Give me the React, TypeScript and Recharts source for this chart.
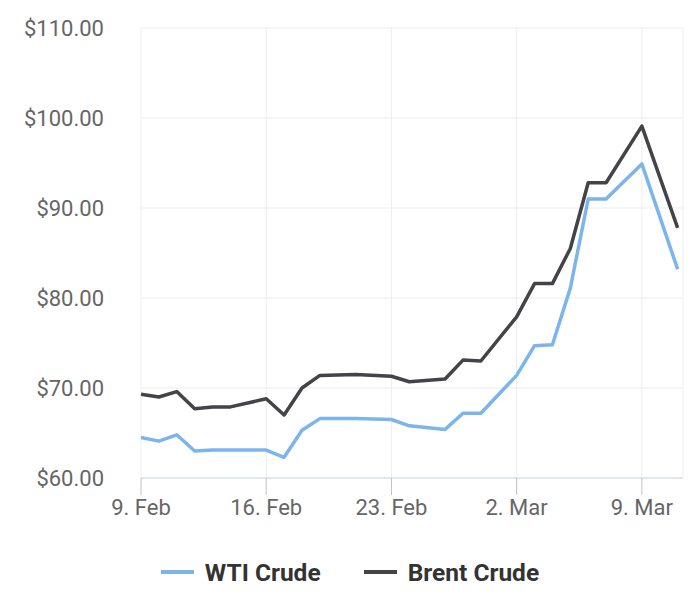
import { LineChart, Line, XAxis, YAxis, CartesianGrid, Legend } from 'recharts';

// day offsets from 9 Feb
const days = [0, 1, 2, 3, 4, 5, 7, 8, 9, 10, 12, 14, 15, 17, 18, 19, 21, 22, 23, 24, 25, 26, 28, 30];
const wti = [64.5, 64.1, 64.8, 63.0, 63.1, 63.1, 63.1, 62.3, 65.3, 66.6, 66.6, 66.5, 65.8, 65.4, 67.2, 67.2, 71.4, 74.7, 74.8, 81.1, 91.0, 91.0, 94.9, 83.2];
const brent = [69.3, 69.0, 69.6, 67.7, 67.9, 67.9, 68.8, 67.0, 70.0, 71.4, 71.5, 71.3, 70.7, 71.0, 73.1, 73.0, 77.9, 81.6, 81.6, 85.5, 92.8, 92.8, 99.1, 87.8];

const xTicks = [0, 7, 14, 21, 28];
const xLabels = ['9. Feb', '16. Feb', '23. Feb', '2. Mar', '9. Mar'];
const yTicks = [60, 70, 80, 90, 100, 110];

const series = [
  { key: 'wti', name: 'WTI Crude', color: '#7cb5ec' },
  { key: 'brent', name: 'Brent Crude', color: '#434348' },
];

const rows = days.map((d, i) => ({ day: d, wti: wti[i], brent: brent[i] }));

function LegendBox() {
  return (
    <div style={{ display: 'flex', justifyContent: 'center', alignItems: 'center', height: 30, gap: 43 }}>
      {series.map((s) => (
        <span key={s.key} style={{ display: 'flex', alignItems: 'center', gap: 11, fontSize: 24.5, fontWeight: 700, color: '#333' }}>
          <span style={{ width: 33, height: 4, background: s.color, display: 'inline-block' }} />
          {s.name}
        </span>
      ))}
    </div>
  );
}

export default function App() {
  return (
    <div style={{ position: 'absolute', left: 0, top: 0, background: '#fff' }}>
      <LineChart
        width={700}
        height={597}
        data={rows}
        margin={{ top: 28, right: 17, bottom: 10, left: 0 }}
        style={{ fontFamily: 'Roboto, sans-serif' }}
      >
        <CartesianGrid stroke="#ededed" strokeWidth={1} />
        <XAxis
          dataKey="day"
          type="number"
          domain={[0, 30.3]}
          ticks={xTicks}
          tickFormatter={(v: number) => xLabels[xTicks.indexOf(v)]}
          height={79}
          tickSize={17}
          tickMargin={4}
          stroke="#ccd6eb"
          tickLine={{ stroke: '#c0c0c0' }}
          tick={{ fill: '#666', fontSize: 22 }}
        />
        <YAxis
          domain={[60, 110]}
          ticks={yTicks}
          width={141}
          axisLine={false}
          tickLine={false}
          tickSize={0}
          tickMargin={37}
          tickFormatter={(v: number) => `$${v.toFixed(2)}`}
          tick={{ fill: '#666', fontSize: 22 }}
        />
        <Legend verticalAlign="bottom" content={() => <LegendBox />} wrapperStyle={{ left: 0, width: 700 }} />
        {series.map((s) => (
          <Line
            key={s.key}
            dataKey={s.key}
            name={s.name}
            stroke={s.color}
            strokeWidth={3.5}
            strokeLinejoin="round"
            dot={false}
            type="linear"
            isAnimationActive={false}
          />
        ))}
      </LineChart>
    </div>
  );
}
